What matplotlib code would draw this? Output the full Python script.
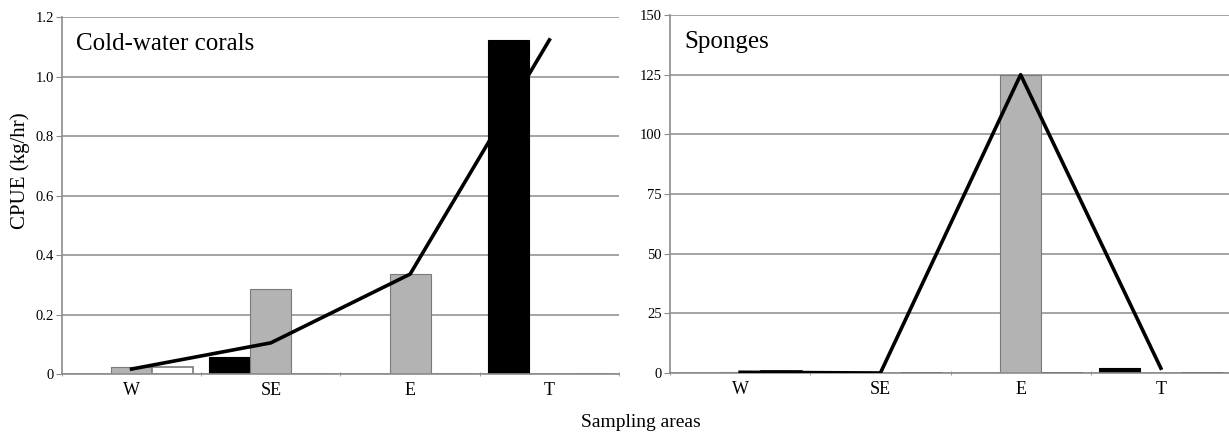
import numpy as np
import matplotlib
matplotlib.use("Agg")
import matplotlib.pyplot as plt

plt.rcParams['font.family'] = ['Liberation Serif', 'DejaVu Serif']

areas = ['W', 'SE', 'E', 'T']

# Cold-water corals (kg/hr)
coral_black = [0, 0.056, 0, 1.123]
coral_gray = [0.025, 0.286, 0.338, 0]
coral_white = [0.025, 0, 0, 0]
coral_line = [0.017, 0.105, 0.336, 1.123]

# Sponges (kg/hr)
sponge_black = [0, 0, 0, 2.3]
sponge_gray = [0.3, 0, 125, 0]
sponge_white = [0.8, 0, 0, 0]
sponge_line = [0.3, 0, 125, 2.0]

grid_c = '#8c8c8c'
edge_c = '#7a7a7a'


def draw_panel(ax, black, gray, white, line, title, yticks, ylabels, ylim, xmax, white_edge):
    x = np.arange(len(areas))
    w = 0.295
    ax.set_axisbelow(True)
    ax.yaxis.grid(True, color=grid_c, linewidth=1.1)
    ax.bar(x - w, black, w, color='black', edgecolor='black', linewidth=0.8, zorder=2)
    ax.bar(x, gray, w, color='#b3b3b3', edgecolor=edge_c, linewidth=0.8, zorder=2)
    ax.bar(x + w, white, w, color='white', edgecolor=white_edge, linewidth=1.2, zorder=2)
    ax.plot(x, line, color='black', linewidth=2.6, zorder=3)
    ax.set_xlim(-0.5, xmax)
    ax.set_ylim(*ylim)
    ax.set_yticks(yticks)
    ax.set_yticklabels(ylabels, fontsize=10.5)
    ax.set_xticks(x)
    ax.set_xticklabels(areas, fontsize=13)
    ax.set_xticks(np.arange(len(areas) + 1) - 0.5, minor=True)
    ax.tick_params(axis='x', which='major', length=0, pad=6)
    ax.tick_params(axis='x', which='minor', length=3, color=grid_c, direction='inout')
    ax.tick_params(axis='y', length=4, color=grid_c, pad=2)
    for s in ['top', 'right']:
        ax.spines[s].set_visible(False)
    for s in ['left', 'bottom']:
        ax.spines[s].set_color(grid_c)
        ax.spines[s].set_linewidth(1.2)
    ax.text(0.026, 0.955, title, transform=ax.transAxes, fontsize=18, va='top', ha='left')


fig = plt.figure(figsize=(12.29, 4.36), dpi=100)
ax1 = fig.add_axes([0.0504, 0.142, 0.4533, 0.819])
ax2 = fig.add_axes([0.5452, 0.1445, 0.4564, 0.821])

draw_panel(ax1, coral_black, coral_gray, coral_white, coral_line, 'Cold-water corals',
           [0, 0.2, 0.4, 0.6, 0.8, 1.0, 1.2], ['0', '0.2', '0.4', '0.6', '0.8', '1.0', '1.2'],
           (0, 1.2), 3.5, edge_c)
draw_panel(ax2, sponge_black, sponge_gray, sponge_white, sponge_line, 'Sponges',
           [0, 25, 50, 75, 100, 125, 150], ['0', '25', '50', '75', '100', '125', '150'],
           (0, 150), 3.5, 'black')

ax1.set_ylabel('CPUE (kg/hr)', fontsize=15)
ax1.yaxis.set_label_coords(-0.058, 0.569)
fig.text(0.5216, 0.03, 'Sampling areas', fontsize=14, ha='center', va='center')

fig.savefig('out.png', dpi=100)
